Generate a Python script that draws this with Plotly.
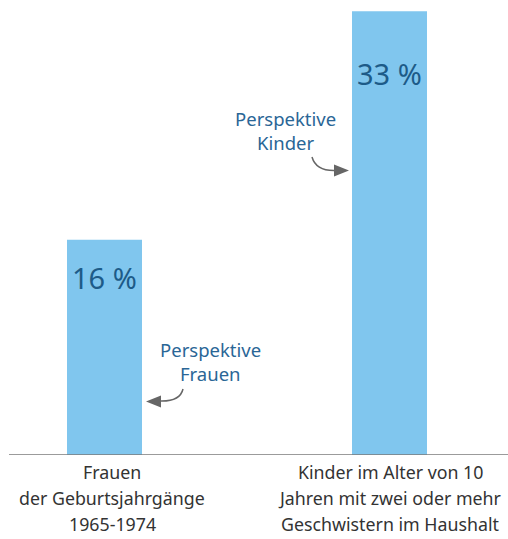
import plotly.graph_objects as go

categories = ["Frauen", "Kinder"]
values = [16, 33]
value_labels = ["16 %", "33 %"]
tick_labels = [["Frauen", "der Geburtsjahrgänge", "1965-1974"],
               ["Kinder im Alter von 10", "Jahren mit zwei oder mehr", "Geschwistern im Haushalt"]]
callouts = [["Perspektive", "Frauen"], ["Perspektive", "Kinder"]]

W, H = 508, 539
ML, MR, MT, MB = 9, 0, 0, 84
PW = W - ML - MR
PH = H - MT - MB
PX_PER_X = 285.0
X0 = -95.5 / PX_PER_X
X1 = X0 + PW / PX_PER_X
PX_PER_Y = 13.45
Y1 = PH / PX_PER_Y

def px2x(px):
    return X0 + (px - ML) / PX_PER_X

def px2y(py):
    return (H - MB - py) / PX_PER_Y

def px2paper_y(py):
    return (H - MB - py) / PH

BAR = "#80c6ee"
DARK = "#1d5b88"
CALL = "#2a6696"
GREY = "#666666"
FONT = "Noto Sans"

xs = [0, 1]
fig = go.Figure(go.Bar(x=xs, y=values, width=75 / PX_PER_X, marker_color=BAR,
                       marker_line_width=0, hoverinfo="skip"))

annotations = []
label_drop = [38, 62]  # px from bar top to label centre
for x, v, t, d in zip(xs, values, value_labels, label_drop):
    annotations.append(dict(x=x, y=v, text=t, showarrow=False, yanchor="middle",
                            yshift=-d, font=dict(size=29, color=DARK, family=FONT)))
# category labels, one annotation per line
label_x = [112, 390]
line_y = [472, 498, 524]
for lx, lines in zip(label_x, tick_labels):
    for ly, t in zip(line_y, lines):
        annotations.append(dict(x=px2x(lx), y=px2paper_y(ly), xref="x", yref="paper",
                                text=t, showarrow=False, yanchor="middle",
                                font=dict(size=17.8, color="#333333", family=FONT)))
# callout texts
call_pos = [(210, [349, 373]), (285, [118, 142])]
for (cx, cys), lines in zip(call_pos, callouts):
    for cy, t in zip(cys, lines):
        annotations.append(dict(x=px2x(cx), y=px2y(cy), text=t, showarrow=False,
                                yanchor="middle",
                                font=dict(size=18.5, color=CALL, family=FONT)))

def P(px, py):
    return f"{px2x(px):.5f},{px2y(py):.5f}"

shapes = [
    dict(type="path", path=f"M {P(183,389)} Q {P(180,402)} {P(159,401)}",
         line=dict(color=GREY, width=1.5)),
    dict(type="path", path=f"M {P(146,401.5)} L {P(161,395.5)} L {P(161,407.5)} Z",
         fillcolor=GREY, line=dict(color=GREY, width=0)),
    dict(type="path", path=f"M {P(312,157)} Q {P(316,171)} {P(335,170.5)}",
         line=dict(color=GREY, width=1.5)),
    dict(type="path", path=f"M {P(349,170.5)} L {P(334,164.5)} L {P(334,176.5)} Z",
         fillcolor=GREY, line=dict(color=GREY, width=0)),
    dict(type="line", xref="paper", yref="y", x0=0, x1=1, y0=0, y1=0,
         line=dict(color="#7a7a7a", width=1.5)),
]

fig.update_layout(
    width=W, height=H, margin=dict(l=ML, r=MR, t=MT, b=MB),
    plot_bgcolor="white", paper_bgcolor="white", showlegend=False,
    xaxis=dict(range=[X0, X1], visible=False, fixedrange=True),
    yaxis=dict(range=[0, Y1], visible=False, fixedrange=True),
    annotations=annotations, shapes=shapes,
)
fig.write_html("out.html", config={"displayModeBar": False},
               post_script="document.body.style.margin='0';document.body.style.overflow='hidden';")
